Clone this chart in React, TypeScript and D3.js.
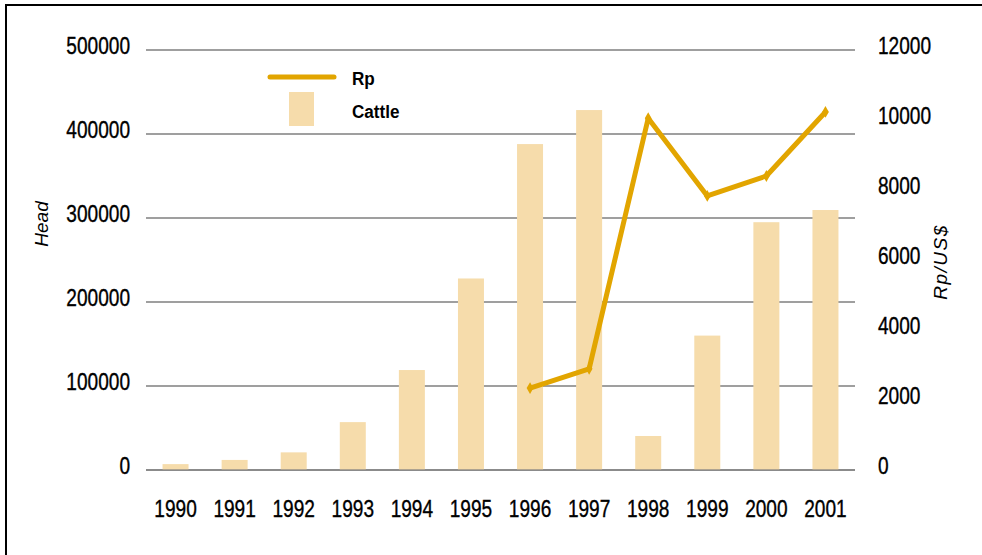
import * as d3 from "d3";

const years = ["1990", "1991", "1992", "1993", "1994", "1995", "1996", "1997", "1998", "1999", "2000", "2001"];
const cattle = [7000, 12000, 21000, 57000, 119000, 228000, 388000, 428500, 40500, 160000, 295000, 309500];
const rpYears = ["1996", "1997", "1998", "1999", "2000", "2001"];
const rpValues = [2340, 2890, 10050, 7830, 8400, 10230];
const leftTicks = [0, 100000, 200000, 300000, 400000, 500000];
const rightTicks = [0, 2000, 4000, 6000, 8000, 10000, 12000];

const W = 982;
const H = 555;
const plot = { left: 146, right: 855, top: 50, bottom: 470 };

const font = "Arial, 'Liberation Sans', sans-serif";
const barColor = "#f6dcab";
const lineColor = "#e2a500";
const gridColor = "#7f7f7f";

// condensed text: Arial squeezed horizontally
const Narrow = ({ x, y, anchor = "start", size = 23, sx = 0.83, bold = false, children }: any) => (
  <text
    transform={`translate(${x},${y}) scale(${sx},1)`}
    textAnchor={anchor}
    fontFamily={font}
    fontSize={size}
    fontWeight={bold ? "bold" : "normal"}
    fill="#000"
    stroke={bold ? "none" : "#000"}
    strokeWidth={bold ? 0 : 0.35}
  >
    {children}
  </text>
);

const App = () => {
  const x = d3.scaleBand().domain(years).range([plot.left, plot.right]);
  const cx = (d: string) => (x(d) as number) + x.bandwidth() / 2;
  const barW = 26;
  const yL = d3.scaleLinear().domain([0, 500000]).range([plot.bottom, plot.top]);
  const yR = d3.scaleLinear().domain([0, 12000]).range([plot.bottom, plot.top]);

  const rpData = rpYears.map((yr, i) => ({ yr, v: rpValues[i] }));
  const line = d3
    .line<{ yr: string; v: number }>()
    .x((d) => cx(d.yr))
    .y((d) => yR(d.v));
  const diamond = d3.symbol().type(d3.symbolDiamond).size(40)();

  return (
    <svg
      width={W}
      height={H}
      style={{ position: "fixed", left: 0, top: 0, background: "#fff" }}
    >
      {/* frame, open at right and bottom */}
      <rect x={6} y={5} width={1100} height={700} fill="none" stroke="#000" strokeWidth={2} />

      {/* gridlines */}
      {leftTicks.map((t) => (
        <line
          key={"g" + t}
          x1={plot.left}
          x2={plot.right}
          y1={yL(t)}
          y2={yL(t)}
          stroke={gridColor}
          strokeWidth={1.6}
        />
      ))}

      {/* bars */}
      {years.map((yr, i) => (
        <rect
          key={"b" + yr}
          x={cx(yr) - barW / 2}
          y={yL(cattle[i])}
          width={barW}
          height={yL(0) - yL(cattle[i])}
          fill={barColor}
        />
      ))}
      <line x1={plot.left} x2={plot.right} y1={yL(0)} y2={yL(0)} stroke={gridColor} strokeWidth={1.6} opacity={0.8} />

      {/* Rp line */}
      <path d={line(rpData) || ""} fill="none" stroke={lineColor} strokeWidth={5} strokeLinejoin="round" />
      {rpData.map((d) => (
        <path key={"m" + d.yr} d={diamond || ""} transform={`translate(${cx(d.yr)},${yR(d.v)})`} fill={lineColor} />
      ))}

      {/* left axis labels */}
      {leftTicks.map((t) => (
        <Narrow key={"l" + t} x={130} y={yL(t) + 4} anchor="end">
          {t}
        </Narrow>
      ))}

      {/* right axis labels */}
      {rightTicks.map((t) => (
        <Narrow key={"r" + t} x={878} y={yR(t) + 4}>
          {t}
        </Narrow>
      ))}

      {/* x labels */}
      {years.map((yr) => (
        <Narrow key={"x" + yr} x={cx(yr)} y={517} anchor="middle">
          {yr}
        </Narrow>
      ))}

      {/* axis titles */}
      <text
        transform="translate(48,224) rotate(-90)"
        textAnchor="middle"
        fontFamily={font}
        fontStyle="italic"
        fontSize={19}
      >
        Head
      </text>
      <text
        transform="translate(947,262) rotate(-90)"
        textAnchor="middle"
        fontFamily={font}
        fontStyle="italic"
        fontSize={19}
        letterSpacing={1.5}
      >
        Rp/US$
      </text>

      {/* legend */}
      <line x1={270} x2={334} y1={77} y2={77} stroke={lineColor} strokeWidth={5} strokeLinecap="round" />
      <Narrow x={352} y={85} size={19} sx={0.9} bold>
        Rp
      </Narrow>
      <rect x={289} y={92} width={25} height={34} fill={barColor} />
      <Narrow x={352} y={118} size={19} sx={0.9} bold>
        Cattle
      </Narrow>
    </svg>
  );
};

export default App;
